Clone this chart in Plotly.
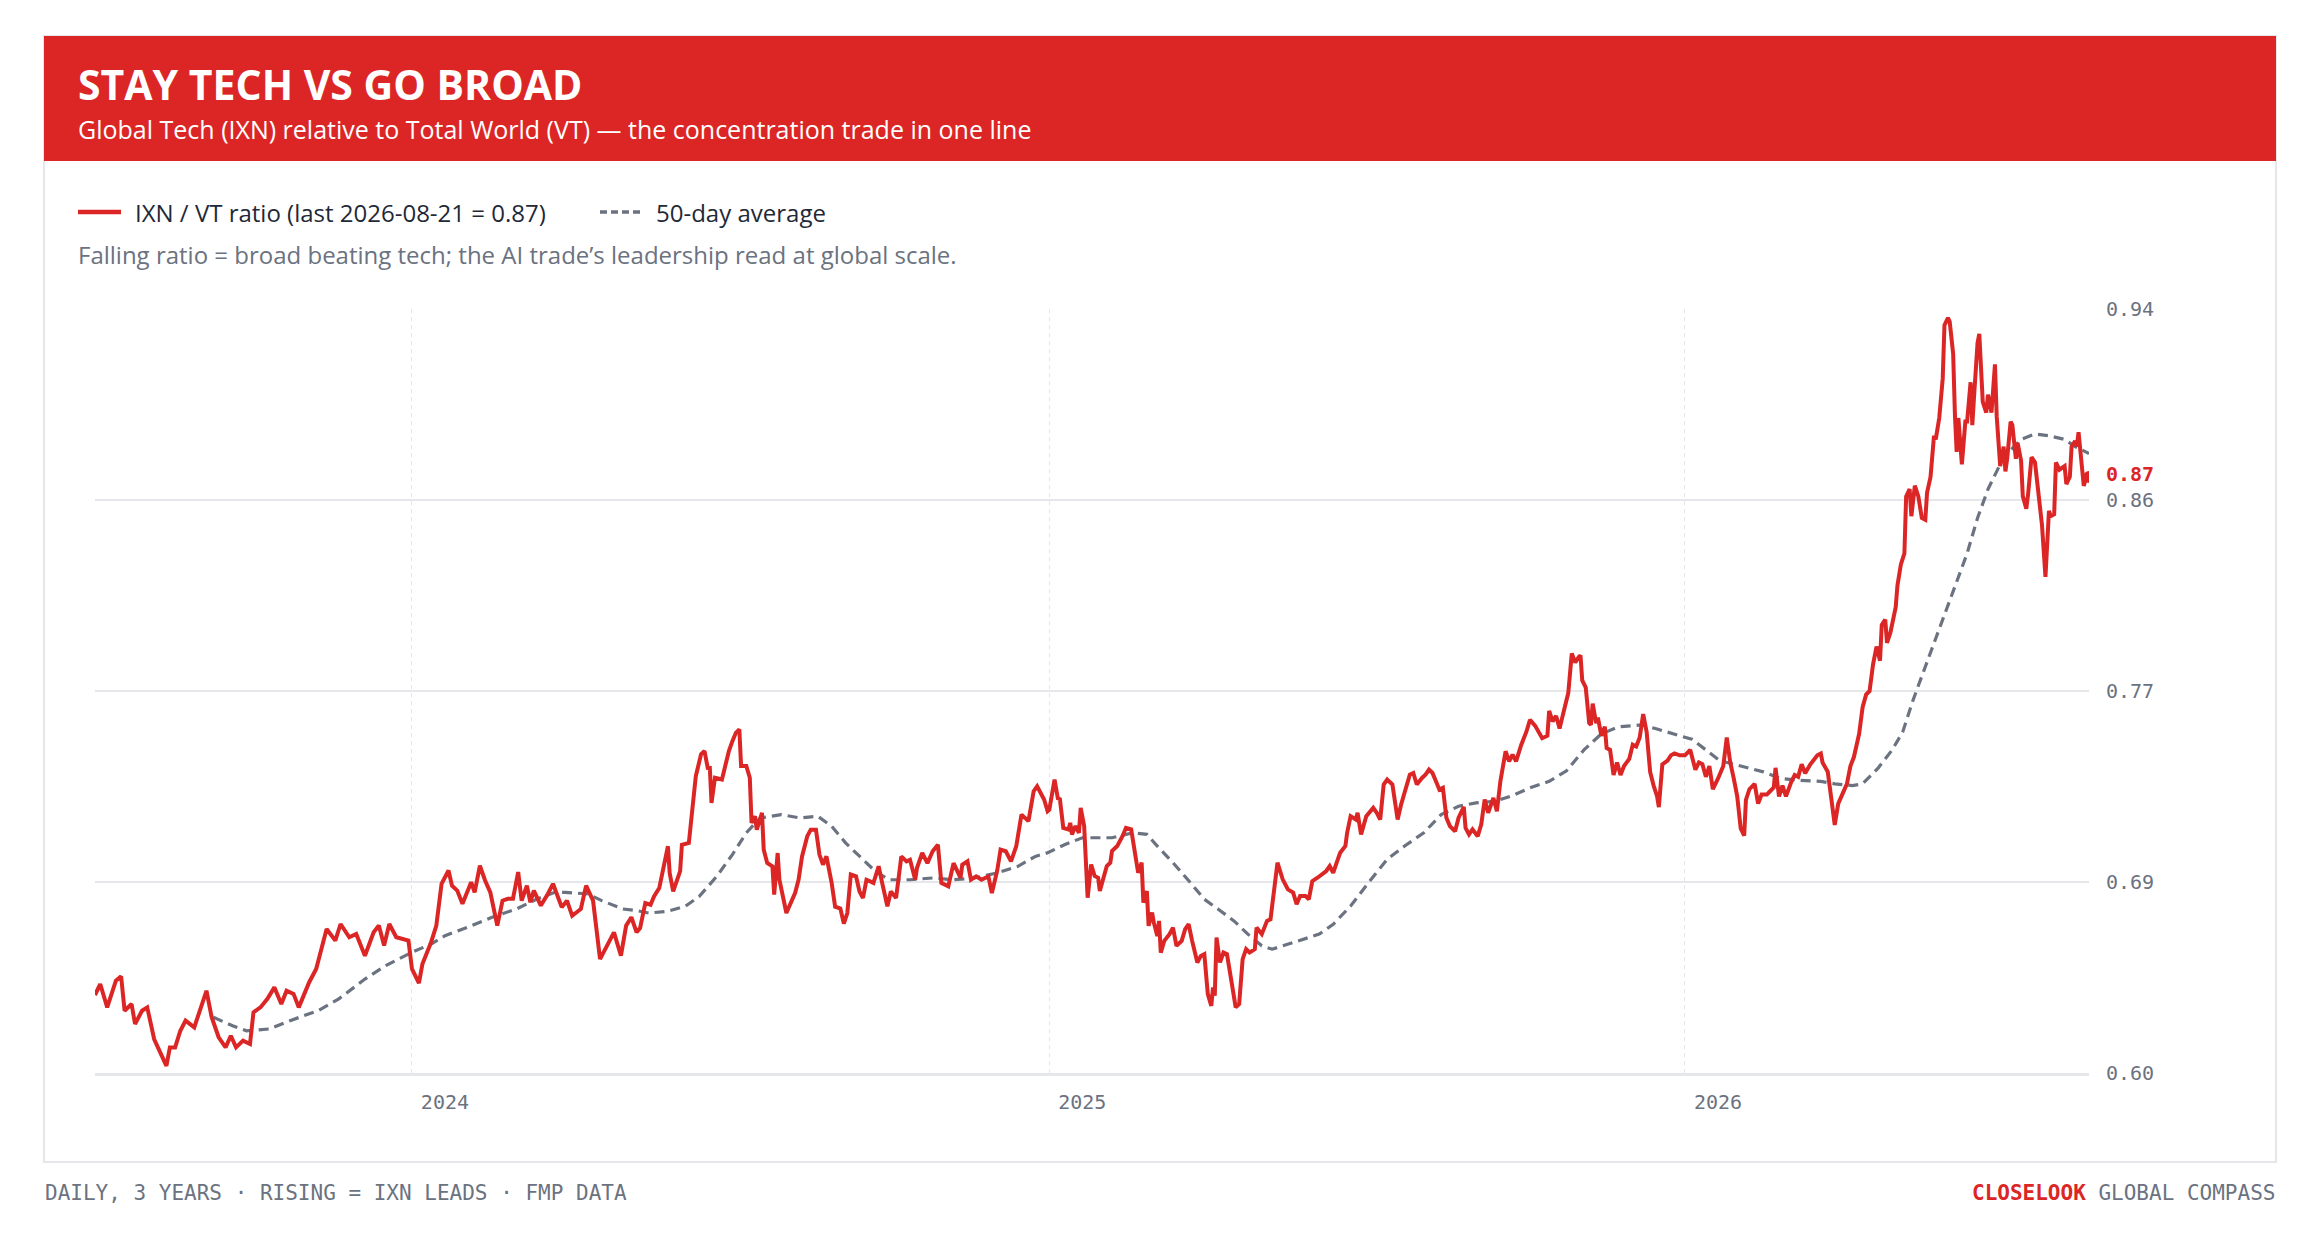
"""
IXN / VT ratio card: global tech relative to total world, with a 50-day average.
"""
import pandas as pd
import plotly.graph_objects as go

# calendar days counted from 2024-01-01
ratio_day = [
    -182, -179, -175, -170, -167, -165, -161, -159, -155, -152, -148, -144, -141, -139, -136, -133,
    -130, -125, -121, -118, -115, -111, -107, -104, -101, -97, -93, -91, -87, -83, -79, -75,
    -72, -68, -65, -62, -59, -55, -52, -49, -44, -41, -36, -32, -27, -22, -19, -16,
    -13, -9, -2, 0, 4, 6, 11, 14, 17, 21, 23, 26, 29, 34, 36, 39,
    42, 45, 49, 52, 55, 58, 61, 63, 66, 68, 70, 74, 78, 81, 86, 89,
    92, 97, 100, 104, 108, 112, 116, 120, 123, 126, 129, 131, 134, 137, 139, 142,
    144, 147, 148, 150, 154, 155, 159, 161, 163, 166, 168, 170, 171, 172, 174, 178,
    180, 182, 184, 186, 188, 189, 192, 194, 195, 197, 198, 201, 202, 204, 207, 208,
    210, 211, 215, 218, 220, 222, 224, 227, 229, 232, 234, 236, 238, 241, 243, 246,
    248, 250, 252, 255, 257, 259, 261, 265, 268, 270, 273, 275, 278, 281, 284, 286,
    289, 290, 293, 296, 299, 302, 304, 308, 311, 315, 316, 319, 321, 324, 327, 331,
    333, 336, 338, 341, 344, 347, 350, 354, 357, 359, 363, 365, 366, 369, 371, 372,
    374, 377, 378, 379, 381, 383, 384, 386, 388, 390, 392, 394, 395, 399, 401, 402,
    405, 408, 410, 413, 415, 417, 419, 420, 422, 423, 425, 426, 428, 429, 430, 432,
    435, 437, 439, 442, 444, 446, 448, 451, 453, 455, 457, 459, 460, 461, 462, 464,
    466, 468, 471, 473, 475, 477, 479, 481, 484, 485, 488, 491, 493, 495, 497, 500,
    503, 506, 508, 510, 513, 515, 517, 520, 523, 525, 527, 529, 531, 533, 536, 537,
    539, 542, 543, 545, 548, 552, 554, 556, 558, 560, 563, 565, 566, 568, 571, 573,
    575, 577, 580, 582, 584, 586, 588, 590, 592, 594, 596, 599, 601, 604, 605, 607,
    609, 612, 614, 616, 618, 621, 623, 625, 628, 630, 632, 634, 637, 640, 642, 645,
    649, 652, 653, 655, 657, 659, 661, 664, 666, 668, 670, 671, 672, 674, 676, 677,
    678, 680, 681, 683, 685, 686, 688, 690, 692, 694, 696, 699, 701, 703, 705, 707,
    709, 711, 713, 715, 716, 718, 721, 723, 725, 728, 731, 734, 737, 739, 741, 743,
    745, 747, 750, 753, 755, 757, 759, 761, 763, 765, 766, 768, 771, 773, 775, 778,
    780, 782, 783, 785, 787, 789, 792, 794, 796, 798, 800, 803, 807, 809, 810, 813,
    815, 817, 819, 821, 824, 826, 828, 831, 833, 835, 837, 839, 841, 843, 844, 846,
    847, 849, 852, 853, 855, 857, 858, 860, 861, 863, 865, 867, 869, 870, 872, 874,
    875, 877, 879, 880, 882, 883, 885, 886, 887, 888, 889, 890, 892, 893, 895, 896,
    897, 899, 900, 902, 904, 905, 907, 909, 910, 912, 914, 915, 916, 918, 919, 921,
    922, 924, 925, 927, 928, 930, 932, 934, 936, 938, 940, 941, 943, 944, 946, 949,
    950, 952, 953, 955, 956, 957, 959, 960, 961, 963,
]
ratio = [
    0.6347, 0.6396, 0.6292, 0.6411, 0.6430, 0.6277, 0.6307, 0.6218, 0.6277, 0.6292, 0.6150, 0.6077, 0.6032, 0.6114, 0.6114, 0.6188,
    0.6233, 0.6203, 0.6292, 0.6366, 0.6248, 0.6159, 0.6114, 0.6166, 0.6114, 0.6144, 0.6129, 0.6270, 0.6292, 0.6330, 0.6381, 0.6307,
    0.6366, 0.6352, 0.6292, 0.6352, 0.6404, 0.6463, 0.6545, 0.6641, 0.6589, 0.6663, 0.6604, 0.6619, 0.6522, 0.6626, 0.6656, 0.6567,
    0.6663, 0.6604, 0.6589, 0.6463, 0.6400, 0.6485, 0.6582, 0.6656, 0.6842, 0.6901, 0.6834, 0.6812, 0.6753, 0.6849, 0.6804, 0.6923,
    0.6857, 0.6804, 0.6656, 0.6767, 0.6775, 0.6775, 0.6894, 0.6767, 0.6834, 0.6760, 0.6812, 0.6745, 0.6797, 0.6842, 0.6738, 0.6767,
    0.6700, 0.6730, 0.6834, 0.6767, 0.6507, 0.6567, 0.6626, 0.6522, 0.6656, 0.6693, 0.6626, 0.6645, 0.6756, 0.6749, 0.6786, 0.6823,
    0.6905, 0.7009, 0.6890, 0.6808, 0.6898, 0.7016, 0.7024, 0.7158, 0.7321, 0.7418, 0.7433, 0.7351, 0.7366, 0.7202, 0.7314, 0.7306,
    0.7373, 0.7433, 0.7477, 0.7514, 0.7529, 0.7366, 0.7366, 0.7314, 0.7113, 0.7143, 0.7083, 0.7158, 0.6994, 0.6935, 0.6920, 0.6794,
    0.6979, 0.6860, 0.6712, 0.6764, 0.6801, 0.6860, 0.6964, 0.7054, 0.7083, 0.7083, 0.6972, 0.6927, 0.6964, 0.6846, 0.6740, 0.6732,
    0.6665, 0.6712, 0.6883, 0.6875, 0.6808, 0.6779, 0.6860, 0.6846, 0.6920, 0.6846, 0.6742, 0.6808, 0.6779, 0.6964, 0.6942, 0.6949,
    0.6860, 0.6912, 0.6979, 0.6934, 0.6987, 0.7016, 0.6846, 0.6831, 0.6934, 0.6868, 0.6927, 0.6942, 0.6860, 0.6875, 0.6860, 0.6875,
    0.6801, 0.6898, 0.6994, 0.6987, 0.6942, 0.7009, 0.7150, 0.7121, 0.7254, 0.7276, 0.7217, 0.7165, 0.7172, 0.7306, 0.7217, 0.7224,
    0.7091, 0.7084, 0.7113, 0.7062, 0.7099, 0.7069, 0.7180, 0.7099, 0.6780, 0.6928, 0.6877, 0.6869, 0.6810, 0.6921, 0.6936, 0.6988,
    0.7010, 0.7054, 0.7091, 0.7084, 0.6980, 0.6891, 0.6936, 0.6758, 0.6810, 0.6655, 0.6714, 0.6669, 0.6610, 0.6677, 0.6536, 0.6588,
    0.6618, 0.6647, 0.6566, 0.6588, 0.6640, 0.6662, 0.6588, 0.6492, 0.6521, 0.6529, 0.6351, 0.6299, 0.6381, 0.6344, 0.6603, 0.6492,
    0.6536, 0.6529, 0.6388, 0.6292, 0.6307, 0.6507, 0.6551, 0.6536, 0.6551, 0.6647, 0.6618, 0.6677, 0.6684, 0.6803, 0.6936, 0.6862,
    0.6817, 0.6803, 0.6751, 0.6788, 0.6788, 0.6773, 0.6854, 0.6869, 0.6884, 0.6899, 0.6921, 0.6891, 0.6936, 0.6980, 0.7010, 0.7069,
    0.7143, 0.7128, 0.7158, 0.7062, 0.7143, 0.7180, 0.7158, 0.7128, 0.7284, 0.7306, 0.7284, 0.7173, 0.7128, 0.7195, 0.7276, 0.7328,
    0.7335, 0.7284, 0.7313, 0.7328, 0.7350, 0.7335, 0.7298, 0.7261, 0.7269, 0.7136, 0.7099, 0.7076, 0.7136, 0.7184, 0.7091, 0.7062,
    0.7084, 0.7054, 0.7106, 0.7217, 0.7158, 0.7224, 0.7165, 0.7298, 0.7432, 0.7387, 0.7417, 0.7387, 0.7461, 0.7520, 0.7572, 0.7545,
    0.7490, 0.7501, 0.7612, 0.7565, 0.7589, 0.7533, 0.7597, 0.7692, 0.7867, 0.7827, 0.7851, 0.7859, 0.7747, 0.7716, 0.7557, 0.7549,
    0.7644, 0.7557, 0.7581, 0.7501, 0.7541, 0.7446, 0.7438, 0.7326, 0.7382, 0.7326, 0.7366, 0.7398, 0.7461, 0.7453, 0.7493, 0.7597,
    0.7517, 0.7340, 0.7279, 0.7231, 0.7183, 0.7374, 0.7390, 0.7414, 0.7422, 0.7414, 0.7414, 0.7438, 0.7350, 0.7382, 0.7374, 0.7318,
    0.7366, 0.7263, 0.7311, 0.7366, 0.7493, 0.7382, 0.7311, 0.7231, 0.7088, 0.7056, 0.7215, 0.7263, 0.7287, 0.7199, 0.7239, 0.7239,
    0.7255, 0.7271, 0.7358, 0.7231, 0.7279, 0.7231, 0.7295, 0.7326, 0.7318, 0.7374, 0.7334, 0.7374, 0.7414, 0.7422, 0.7382, 0.7340,
    0.7223, 0.7104, 0.7199, 0.7239, 0.7287, 0.7366, 0.7406, 0.7509, 0.7628, 0.7684, 0.7700, 0.7819, 0.7898, 0.7835, 0.7994, 0.8018,
    0.7914, 0.7962, 0.8073, 0.8169, 0.8264, 0.8312, 0.8566, 0.8598, 0.8478, 0.8614, 0.8566, 0.8470, 0.8462, 0.8582, 0.8653, 0.8836,
    0.8820, 0.8915, 0.9090, 0.9328, 0.9360, 0.9344, 0.9201, 0.8931, 0.8764, 0.8915, 0.8820, 0.8709, 0.8899, 0.8899, 0.9074, 0.8883,
    0.9011, 0.9249, 0.9289, 0.8987, 0.8939, 0.9019, 0.8939, 0.9154, 0.8923, 0.8701, 0.8788, 0.8677, 0.8733, 0.8899, 0.8883, 0.8733,
    0.8804, 0.8725, 0.8566, 0.8511, 0.8574, 0.8741, 0.8717, 0.8566, 0.8439, 0.8208, 0.8502, 0.8478, 0.8486, 0.8717, 0.8685, 0.8701,
    0.8621, 0.8653, 0.8788, 0.8812, 0.8788, 0.8852, 0.8709, 0.8613, 0.8640, 0.8652,
]

# 50-day average, read at coarser spacing
avg_day = [
    -114, -103, -95, -82, -70, -54, -42, -27, -15, 0, 11, 19, 32, 46, 60, 72,
    82, 88, 101, 109, 121, 129, 136, 147, 157, 165, 175, 184, 192, 200, 212, 223,
    233, 241, 249, 258, 266, 274, 286, 299, 311, 323, 336, 348, 358, 365, 375, 385,
    402, 414, 422, 428, 437, 447, 455, 463, 472, 480, 488, 494, 509, 521, 529, 539,
    550, 560, 570, 581, 591, 601, 611, 622, 632, 642, 653, 663, 673, 683, 693, 706,
    714, 724, 735, 743, 751, 763, 776, 786, 796, 809, 817, 827, 833, 842, 850, 856,
    862, 868, 874, 881, 887, 893, 899, 905, 912, 918, 924, 932, 940, 949, 955, 963,
]
avg = [
    0.6248, 0.6210, 0.6188, 0.6196, 0.6233, 0.6277, 0.6330, 0.6418, 0.6478, 0.6537, 0.6574, 0.6611, 0.6649, 0.6693, 0.6730, 0.6775,
    0.6804, 0.6804, 0.6797, 0.6767, 0.6730, 0.6723, 0.6712, 0.6720, 0.6742, 0.6786, 0.6875, 0.6972, 0.7069, 0.7135, 0.7150, 0.7135,
    0.7143, 0.7098, 0.7024, 0.6957, 0.6898, 0.6860, 0.6860, 0.6868, 0.6860, 0.6868, 0.6890, 0.6920, 0.6964, 0.6980, 0.7017, 0.7047,
    0.7047, 0.7069, 0.7062, 0.7010, 0.6936, 0.6847, 0.6773, 0.6729, 0.6677, 0.6618, 0.6566, 0.6551, 0.6588, 0.6618, 0.6662, 0.6743,
    0.6854, 0.6951, 0.7010, 0.7069, 0.7150, 0.7187, 0.7202, 0.7209, 0.7235, 0.7269, 0.7298, 0.7345, 0.7438, 0.7509, 0.7541, 0.7549,
    0.7533, 0.7509, 0.7485, 0.7438, 0.7390, 0.7366, 0.7340, 0.7311, 0.7303, 0.7298, 0.7287, 0.7279, 0.7287, 0.7358, 0.7438, 0.7517,
    0.7660, 0.7787, 0.7914, 0.8057, 0.8184, 0.8312, 0.8470, 0.8598, 0.8709, 0.8772, 0.8820, 0.8844, 0.8836, 0.8820, 0.8788, 0.8757,
]

y_ticks = [0.60, 0.685, 0.77, 0.855, 0.94]
y_tick_labels = ["0.60", "0.69", "0.77", "0.86", "0.94"]

RED = "#dc2626"
SLATE = "#6b7280"
GRID = "#e5e7eb"
INK = "#1f2937"
SANS = "Open Sans, Noto Sans, sans-serif"
MONO = "DejaVu Sans Mono, Liberation Mono, monospace"

# the html page puts an 8px body margin around the figure
PAGE_PAD = 8
W, H = 2320 - 2 * PAGE_PAD, 1242 - 2 * PAGE_PAD
PLOT_LEFT, PLOT_TOP, PLOT_W, PLOT_H = 95, 309, 1994, 764   # page pixels
M_L = PLOT_LEFT - PAGE_PAD
M_T = PLOT_TOP - PAGE_PAD
M_R = W - M_L - PLOT_W
M_B = H - M_T - PLOT_H


def px_x(x):
    return (x - PLOT_LEFT) / PLOT_W


def px_y(y):
    return (PLOT_TOP + PLOT_H - y) / PLOT_H


def main():
    base = pd.Timestamp("2024-01-01")
    ratio_dates = base + pd.to_timedelta(ratio_day, unit="D")
    avg_dates = base + pd.to_timedelta(avg_day, unit="D")
    last_date = ratio_dates[-1]
    last_val = ratio[-1]

    avg_trace = go.Scatter(x=avg_dates, y=avg, mode="lines",
                           line=dict(color=SLATE, width=3.2, dash="10px,6px"),
                           hoverinfo="skip", showlegend=False)
    ratio_trace = go.Scatter(x=ratio_dates, y=ratio, mode="lines",
                             line=dict(color=RED, width=4),
                             showlegend=False)
    end_dot = go.Scatter(x=[last_date], y=[last_val], mode="markers",
                         marker=dict(color=RED, size=12),
                         hoverinfo="skip", showlegend=False)

    fig = go.Figure(data=[avg_trace, ratio_trace, end_dot])

    shapes = [
        # card outline
        dict(type="rect", xref="paper", yref="paper", layer="below",
             x0=px_x(44), x1=px_x(2276), y0=px_y(1162), y1=px_y(36),
             line=dict(color=GRID, width=2), fillcolor="white"),
        # red header band
        dict(type="rect", xref="paper", yref="paper", layer="below",
             x0=px_x(44), x1=px_x(2276), y0=px_y(161), y1=px_y(36),
             line=dict(width=0), fillcolor=RED),
        # legend swatches
        dict(type="line", xref="paper", yref="paper",
             x0=px_x(78), x1=px_x(121), y0=px_y(212), y1=px_y(212),
             line=dict(color=RED, width=4.5)),
        dict(type="line", xref="paper", yref="paper",
             x0=px_x(600), x1=px_x(644), y0=px_y(212), y1=px_y(212),
             line=dict(color=SLATE, width=3.5, dash="7px,4px")),
    ]

    annotations = [
        dict(text="STAY TECH VS GO BROAD", x=px_x(76), y=px_y(84),
             font=dict(family=SANS, size=41, color="white", weight="bold")),
        dict(text="Global Tech (IXN) relative to Total World (VT) \u2014 the concentration trade in one line",
             x=px_x(76), y=px_y(129), font=dict(family=SANS, size=25, color="white")),
        dict(text=f"IXN / VT ratio (last {last_date:%Y-%m-%d} = {last_val:.2f})",
             x=px_x(133), y=px_y(212), font=dict(family=SANS, size=24, color=INK)),
        dict(text="50-day average", x=px_x(654), y=px_y(212),
             font=dict(family=SANS, size=24, color=INK)),
        dict(text="Falling ratio = broad beating tech; the AI trade\u2019s leadership read at global scale.",
             x=px_x(76), y=px_y(255), font=dict(family=SANS, size=24, color=SLATE)),
        dict(text="DAILY, 3 YEARS \u00b7 RISING = IXN LEADS \u00b7 FMP DATA",
             x=px_x(43), y=px_y(1193), font=dict(family=MONO, size=21, color=SLATE)),
        dict(text=f"<span style='color:{RED}'><b>CLOSELOOK</b></span> GLOBAL COMPASS",
             x=px_x(2277), y=px_y(1193), xanchor="right",
             font=dict(family=MONO, size=21, color=SLATE)),
    ]
    for a in annotations:
        a.setdefault("xref", "paper")
        a.setdefault("yref", "paper")
        a.setdefault("xanchor", "left")
        a.setdefault("yanchor", "middle")
        a.setdefault("showarrow", False)

    # last-value tag at the right edge, nudged clear of the 0.86 tick
    annotations.append(dict(text=f"<b>{last_val:.2f}</b>", xref="x", yref="y",
                            x=last_date, y=last_val, xanchor="left", yanchor="middle",
                            xshift=15, yshift=3, showarrow=False,
                            font=dict(family=MONO, size=20, color=RED)))

    fig.update_layout(
        width=W, height=H,
        margin=dict(l=M_L, r=M_R, t=M_T, b=M_B, pad=0),
        paper_bgcolor="white",
        plot_bgcolor="rgba(0,0,0,0)",
        shapes=shapes,
        annotations=annotations,
        showlegend=False,
        hovermode="x unified",
    )
    fig.update_xaxes(
        range=[ratio_dates[0], last_date],
        tick0="2024-01-01", dtick="M12", tickformat="%Y",
        showgrid=True, gridcolor=GRID, gridwidth=1, griddash="4px,4px",
        showline=True, linecolor=GRID, linewidth=3,
        ticks="", ticklabelshift=33, ticklabelstandoff=9,
        tickfont=dict(family=MONO, size=20, color=SLATE),
        zeroline=False,
    )
    fig.update_yaxes(
        range=[0.60, 0.94], side="right",
        tickvals=y_ticks, ticktext=y_tick_labels,
        showgrid=True, gridcolor=GRID, gridwidth=1.5,
        ticks="", ticklabelstandoff=16,
        tickfont=dict(family=MONO, size=20, color=SLATE),
        zeroline=False, showline=False,
    )

    fig.write_html("out.html")


if __name__ == "__main__":
    main()
